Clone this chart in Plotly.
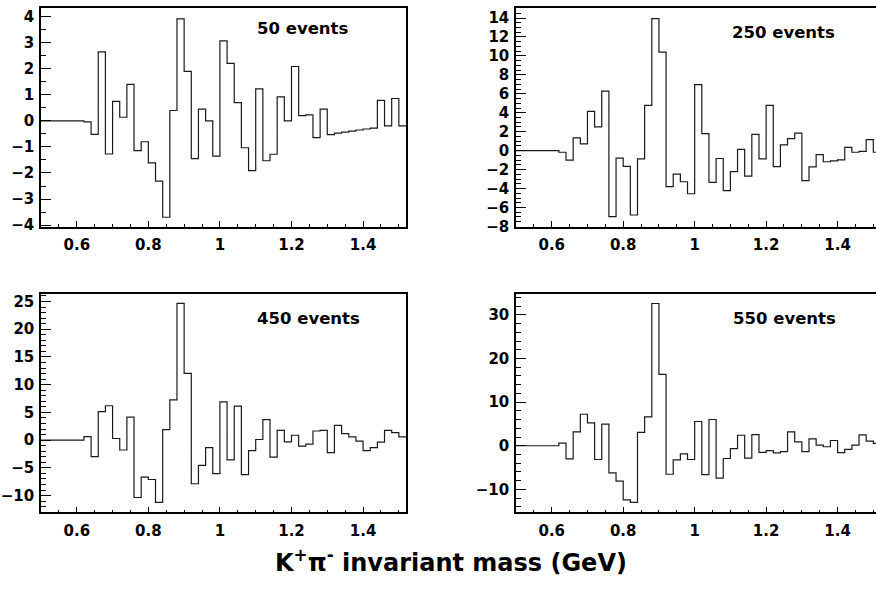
import numpy as np
import plotly.graph_objects as go

# ---------------- data ----------------
bin_start = 0.50
bin_width = 0.02

events_50 = [0, 0, 0, 0, 0, 0,
             -0.04, -0.52, 2.65, -1.27, 0.75, 0.14, 1.40, -1.14, -0.80, -1.61,
             -2.31, -3.70, 0.40, 3.92, 1.90, -1.45, 0.45, 0.00, -1.35, 3.07,
             2.21, 0.70, -1.03, -1.91, 1.23, -1.53, -1.28, 0.92, 0.00, 2.09,
             0.20, 0.23, -0.64, 0.45, -0.53, -0.47, -0.43, -0.39, -0.35, -0.31,
             -0.28, 0.79, -0.19, 0.86, -0.19]

events_250 = [0, 0, 0, 0, 0, 0,
              -0.17, -1.00, 1.34, 0.72, 4.14, 2.52, 6.28, -6.97, -0.79, -1.66,
              -6.79, -0.86, 4.79, 13.93, 10.41, -3.79, -2.48, -3.28, -4.55, 6.97,
              1.79, -3.34, -0.83, -4.21, -2.21, 0.14, -2.69, 1.72, -0.86, 4.79,
              -1.69, 0.62, 1.28, 1.86, -3.17, -1.72, -0.41, -1.17, -1.07, -0.97,
              0.34, -0.17, -0.07, 1.17, -0.17]

events_450 = [0, 0, 0, 0, 0, 0,
              0.65, -2.96, 5.14, 6.21, 0.30, -1.77, 4.14, -10.34, -6.68, -7.09,
              -11.23, 1.89, 7.27, 24.65, 12.06, -7.86, -4.55, -1.36, -6.03, 6.91,
              -3.55, 6.15, -6.21, -1.89, 0.12, 3.72, -3.07, 1.77, -0.30, 0.89,
              -1.06, -0.71, 1.65, 1.77, -2.25, 2.66, 1.18, 0.59, -0.18, -1.89,
              -1.36, -0.35, 1.77, 1.36, 0.59]

events_550 = [0, 0, 0, 0, 0, 0,
              0.60, -3.00, 3.16, 7.22, 5.26, -3.16, 4.96, -6.24, -8.12, -12.41,
              -13.00, 3.08, 6.62, 32.63, 16.39, -6.54, -3.23, -1.88, -3.16, 5.56,
              -6.62, 6.02, -7.44, -2.93, -0.68, 2.41, -2.86, 2.56, -1.50, -1.13,
              -1.65, -1.35, 3.16, 0.90, -1.35, 1.58, 0.15, -0.23, 1.20, -1.58,
              -0.83, 0.15, 2.48, 1.05, 0.53]

panel_labels = ["50 events", "250 events", "450 events", "550 events"]
x_title = "K<sup>+</sup>π<sup>-</sup> invariant mass (GeV)"

series = [events_50, events_250, events_450, events_550]

# ---------------- layout geometry ----------------
W, H = 876, 595
FONT = "DejaVu Sans"

def px_x(v):
    return v / W

def px_y(v):
    return 1 - v / H

x_domains = [[px_x(41), px_x(406)], [px_x(516), 1.0],
             [px_x(41), px_x(406)], [px_x(516), 1.0]]
y_domains = [[px_y(229.5), px_y(7)], [px_y(229.5), px_y(7)],
             [px_y(520), px_y(297.7)], [px_y(520), px_y(297.7)]]
x_ranges = [[0.5, 1.52], [0.5, 1.5075], [0.5, 1.52], [0.5, 1.5075]]
y_ranges = [[-4.06, 4.34], [-8.02, 15.07], [-13.0, 26.41], [-15.26, 34.88]]
y_dticks = [1, 2, 5, 10]
y_minor = [0.5, 0.5, 1, 2]
label_pos = [(302.5, 27.5), (783.3, 31.7), (308, 322.5), (784, 322.8)]

fig = go.Figure()

for i, vals in enumerate(series):
    n = len(vals)
    edges = np.round(bin_start + bin_width * np.arange(n + 1), 4)
    xs = list(edges)
    ys = list(vals) + [vals[-1]]
    suffix = "" if i == 0 else str(i + 1)
    fig.add_trace(go.Scatter(
        x=xs, y=ys, mode="lines", line=dict(shape="hv", color="#1a1a1a", width=1.2),
        xaxis="x" + suffix, yaxis="y" + suffix, showlegend=False, hoverinfo="skip"))

    right_panel = i in (1, 3)
    fig.layout["xaxis" + suffix] = dict(
        domain=x_domains[i], range=x_ranges[i], anchor="y" + suffix,
        showgrid=False, zeroline=False, showline=True, linecolor="black", linewidth=1.5,
        mirror=True, ticks="inside", ticklen=6, tickwidth=1, tickcolor="black",
        dtick=0.2, tick0=0.6,
        minor=dict(dtick=0.05, tick0=0.5, ticks="inside", ticklen=3, tickcolor="black", showgrid=False),
        tickfont=dict(family=FONT, size=15, color="black", weight="bold"),
        ticklabelstandoff=4,
    )
    fig.layout["yaxis" + suffix] = dict(
        domain=y_domains[i], range=y_ranges[i], anchor="x" + suffix,
        showgrid=False, zeroline=False, showline=True, linecolor="black", linewidth=1.5,
        mirror=(not right_panel), ticks="inside", ticklen=10, tickwidth=1, tickcolor="black",
        dtick=y_dticks[i], tick0=0,
        minor=dict(dtick=y_minor[i], tick0=0, ticks="inside", ticklen=5, tickcolor="black", showgrid=False),
        tickfont=dict(family=FONT, size=15, color="black", weight="bold"),
        ticklabelstandoff=2,
    )
    lx, ly = label_pos[i]
    fig.add_annotation(x=px_x(lx), y=px_y(ly), xref="paper", yref="paper",
                       text=panel_labels[i], showarrow=False, xanchor="center", yanchor="middle",
                       font=dict(family=FONT, size=16.5, color="black", weight="bold"))

fig.add_annotation(x=px_x(451), y=px_y(570), xref="paper", yref="paper",
                   text=x_title, showarrow=False, xanchor="center", yanchor="middle",
                   font=dict(family=FONT, size=24, color="black", weight="bold"))

fig.update_layout(width=W, height=H, margin=dict(l=0, r=0, t=0, b=0),
                  paper_bgcolor="white", plot_bgcolor="white")

fig.write_html("out.html")
